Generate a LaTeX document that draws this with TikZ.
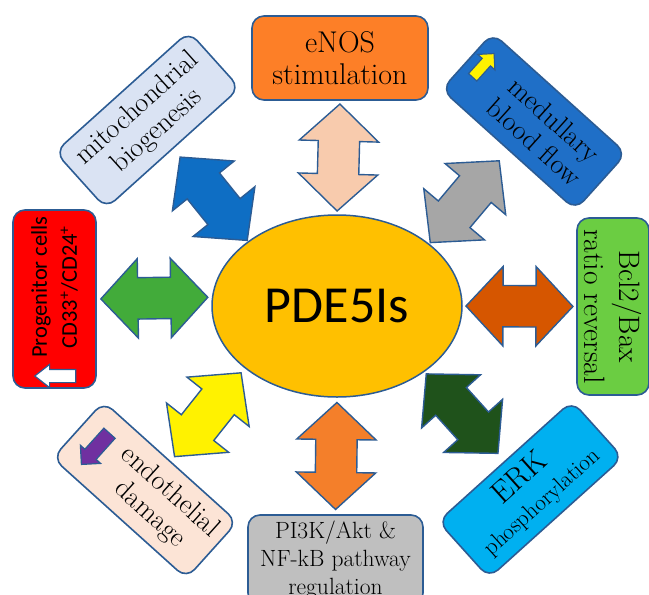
\documentclass[tikz,border=0pt]{standalone}
\usepackage{fontspec}
\newfontfamily\calibrifont{Carlito}
\usepackage{tikz}
\usetikzlibrary{shapes,positioning}

\definecolor{rimblue}{RGB}{44,92,148}
\definecolor{pdefill}{RGB}{255,192,0}
\definecolor{enosfill}{RGB}{253,127,39}
\definecolor{peacharrow}{RGB}{248,203,173}
\definecolor{mitofill}{RGB}{218,227,243}
\definecolor{mitoarrow}{RGB}{14,110,196}
\definecolor{medulfill}{RGB}{31,111,199}
\definecolor{grayarrow}{RGB}{166,166,166}
\definecolor{progfill}{RGB}{255,0,0}
\definecolor{greenarrow}{RGB}{66,171,58}
\definecolor{bclfill}{RGB}{107,205,66}
\definecolor{rustarrow}{RGB}{214,86,0}
\definecolor{endofill}{RGB}{252,228,214}
\definecolor{iconpurple}{RGB}{112,48,160}
\definecolor{piarrow}{RGB}{244,127,42}
\definecolor{pifill}{RGB}{191,191,191}
\definecolor{erkarrow}{RGB}{31,82,27}
\definecolor{erkfill}{RGB}{0,176,240}

\begin{document}
\begin{tikzpicture}[x = 1pt, y = -1pt,
    box/.style = {rectangle, draw = rimblue, line width = 1.6pt,
      rounded corners = 12pt, inner sep = 1pt, align = center},
    tiltbox/.style = {box, minimum width = 180pt, minimum height = 76pt,
      font = \fontsize{28}{30}\selectfont},
    dblarrow/.style = {double arrow, draw = rimblue, line width = 1.4pt,
      inner xsep = 0pt, inner ysep = 20pt, minimum height = 107pt,
      double arrow head extend = 19pt, double arrow tip angle = 94, sloped},
    icon/.style = {single arrow, draw = rimblue, line width = 1.2pt,
      inner xsep = 0pt}]
  \useasboundingbox (0,0) rectangle (649,595);
  \clip (0,0) rectangle (649,595);

  % centre
  \node[ellipse, draw = rimblue, fill = pdefill, line width = 1.5pt,
    minimum width = 250pt, minimum height = 182pt,
    font = \calibrifont\fontsize{52}{60}\selectfont] (pde) at (337,306) {PDE5Is};

  % boxes round it
  \node[box, fill = enosfill, minimum width = 176pt, minimum height = 84pt,
    font = \fontsize{30}{32}\selectfont] (enos) at (340,58) {eNOS\\stimulation};
  \node[tiltbox, fill = mitofill, rotate = 42] (mito) at (147.5,120)
    {mitochondrial\\biogenesis};
  \node[tiltbox, fill = medulfill, rotate = -42] (medul) at (534,121.5)
    {\hspace*{28pt}medullary\\\hspace*{28pt}blood flow};
  \node[box, fill = progfill, rotate = 90, minimum width = 178pt,
    minimum height = 83pt, font = \calibrifont\fontsize{22.5}{30}\selectfont]
    (prog) at (54.5,299)
    {\hspace*{24pt}Progenitor cells\\\hspace*{24pt}CD33\textsuperscript{+}/CD24\textsuperscript{+}};
  \node[box, fill = bclfill, rotate = -90, minimum width = 177pt,
    minimum height = 72pt, font = \fontsize{29.5}{35}\selectfont]
    (bcl) at (613,306.5) {Bcl2/Bax\\ratio reversal};
  \node[tiltbox, fill = endofill, rotate = -42] (endo) at (145,490)
    {\hspace*{40pt}endothelial\\\hspace*{40pt}damage};
  \node[box, fill = pifill, minimum width = 175pt, minimum height = 90pt,
    font = \fontsize{23.5}{28}\selectfont] (pi) at (335.5,560)
    {PI3K/Akt \&\\NF-kB pathway\\regulation};
  \node[tiltbox, fill = erkfill, rotate = 42, font = \fontsize{23}{31}\selectfont]
    (erk) at (530.5,489.5) {{\fontsize{31}{31}\selectfont ERK}\\phosphorylation};

  % small arrows inside the boxes
  \node[icon, fill = yellow, rotate = 48, inner ysep = 5pt, minimum height = 32pt,
    single arrow head extend = 6pt] (upIcon) at (481.5,67.5) {};
  \node[icon, fill = white, rotate = 180, inner ysep = 6pt, minimum height = 41pt,
    single arrow head extend = 5pt, single arrow tip angle = 76]
    (leftIcon) at (59.5,376) {};
  \node[icon, fill = iconpurple, rotate = -132, inner ysep = 7pt,
    minimum height = 42pt, single arrow head extend = 6pt] (downIcon) at (98,446) {};

  % two-way arrows
  \path (enos.south) -- (pde.north) node[dblarrow, midway, fill = peacharrow] (arrEnos) {};
  \path (mito.south) -- (pde.144) node[dblarrow, pos = 0.54, fill = mitoarrow] (arrMito) {};
  \path (medul.south) -- (pde.34) node[dblarrow, pos = 0.55, fill = grayarrow] (arrMedul) {};
  \path (prog.south) -- (pde.176) node[dblarrow, midway, fill = greenarrow] (arrProg) {};
  \path (bcl.south) -- (pde.east) node[dblarrow, midway, fill = rustarrow] (arrBcl) {};
  \path (endo.north) -- (pde.214) node[dblarrow, midway, fill = yellow] (arrEndo) {};
  \path (pi.north) -- (pde.south) node[dblarrow, midway, fill = piarrow] (arrPi) {};
  \path (erk.north) -- (pde.-37) node[dblarrow, pos = 0.53, fill = erkarrow] (arrErk) {};
\end{tikzpicture}
\end{document}
